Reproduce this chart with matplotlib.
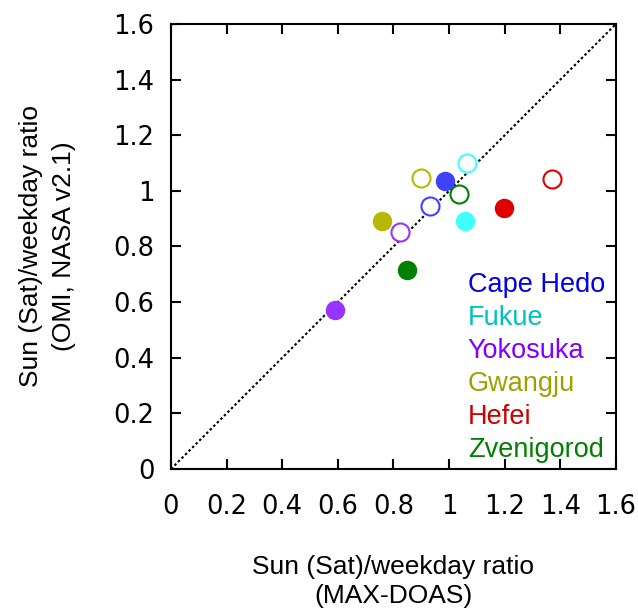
import numpy as np
import matplotlib.pyplot as plt

# stacje i wartości
sites = ['Cape Hedo', 'Fukue', 'Yokosuka', 'Gwangju', 'Hefei', 'Zvenigorod']
marker_colors = ['#4040ff', '#40ffff', '#9933ff', '#b8b800', '#e00000', '#008000']
text_colors = ['#0000e6', '#00c0c0', '#8000ff', '#a0a000', '#cc0000', '#008000']

# Sunday (wypełnione) i Saturday (puste)
sun_x = [0.987, 1.056, 0.591, 0.760, 1.197, 0.847]
sun_y = [1.036, 0.892, 0.572, 0.892, 0.938, 0.716]
sat_x = [0.933, 1.063, 0.823, 0.900, 1.369, 1.035]
sat_y = [0.944, 1.100, 0.851, 1.046, 1.043, 0.989]

ticks = [0, 0.2, 0.4, 0.6, 0.8, 1, 1.2, 1.4, 1.6]
tick_labels = ['0', '0.2', '0.4', '0.6', '0.8', '1', '1.2', '1.4', '1.6']

fig = plt.figure(figsize=(6.38, 6.08), dpi=100)
ax = fig.add_axes([0.268, 0.2286, 0.6975, 0.732])

ax.plot([0, 1.6], [0, 1.6], color='black', linestyle=(0, (1.2, 1.2)), linewidth=1.5, zorder=1)

for i in range(len(sites)):
    ax.plot(sat_x[i], sat_y[i], 'o', markersize=13, markerfacecolor='white',
            markeredgecolor=marker_colors[i], markeredgewidth=1.5, zorder=3)
    ax.plot(sun_x[i], sun_y[i], 'o', markersize=13, markerfacecolor=marker_colors[i],
            markeredgecolor=marker_colors[i], zorder=3)

for i, name in enumerate(sites):
    ax.text(1.067, 0.637 - i * 0.119, name, color=text_colors[i], fontsize=19.5,
            family='Liberation Sans', va='baseline', ha='left')

ax.set_xlim(0, 1.6)
ax.set_ylim(0, 1.6)
ax.set_xticks(ticks)
ax.set_xticklabels(tick_labels)
ax.set_yticks(ticks)
ax.set_yticklabels(tick_labels)
ax.tick_params(direction='in', length=7.5, width=1.5, top=True, right=True, labelsize=18.5)
ax.tick_params(axis='x', pad=18)
ax.tick_params(axis='y', pad=12)
for s in ax.spines.values():
    s.set_linewidth(1.5)

ax.set_xlabel('Sun (Sat)/weekday ratio\n(MAX-DOAS)', fontsize=19, family='Liberation Sans',
              labelpad=25, linespacing=1.28)
ax.set_ylabel('Sun (Sat)/weekday ratio\n(OMI, NASA v2.1)', fontsize=19, family='Liberation Sans',
              labelpad=27, linespacing=1.45)

fig.savefig('out.png', dpi=100)
